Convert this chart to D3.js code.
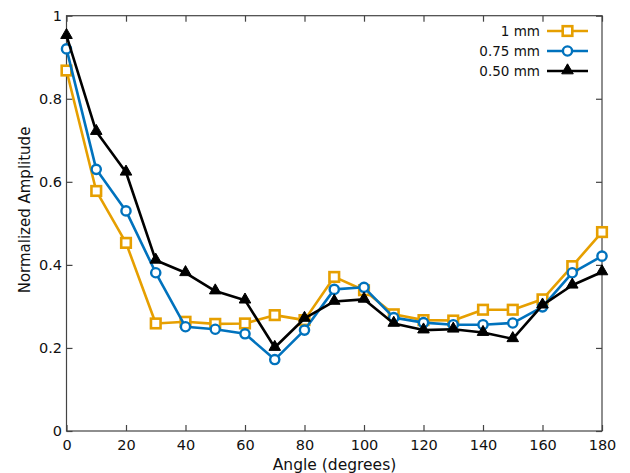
<!DOCTYPE html>
<html>
<head>
<meta charset="utf-8">
<script src="https://cdn.jsdelivr.net/npm/d3@7"></script>
<style>
  html, body { margin: 0; padding: 0; background: #fff; }
  svg text { font-family: "DejaVu Sans", Verdana, sans-serif; fill: #111; }
</style>
</head>
<body>
<svg id="chart" width="630" height="473"></svg>
<script>
// Measurement angles (degrees)
const angles = [0, 10, 20, 30, 40, 50, 60, 70, 80, 90, 100, 110, 120, 130, 140, 150, 160, 170, 180];

// Normalized amplitude per probe size
const amp1mm = [0.868, 0.578, 0.453, 0.259, 0.263, 0.258, 0.259, 0.279, 0.267, 0.371, 0.339, 0.281, 0.267, 0.266, 0.292, 0.292, 0.317, 0.397, 0.479];
const amp075mm = [0.920, 0.630, 0.530, 0.381, 0.251, 0.245, 0.234, 0.172, 0.243, 0.341, 0.346, 0.273, 0.261, 0.256, 0.256, 0.260, 0.299, 0.381, 0.421];
const amp050mm = [0.952, 0.721, 0.623, 0.411, 0.381, 0.337, 0.315, 0.201, 0.271, 0.312, 0.317, 0.259, 0.243, 0.245, 0.237, 0.222, 0.303, 0.351, 0.383];

const seriesNames = ["1 mm", "0.75 mm", "0.50 mm"];
const xTicks = [0, 20, 40, 60, 80, 100, 120, 140, 160, 180];
const yTicks = [0, 0.2, 0.4, 0.6, 0.8, 1];

const series = [
  { name: seriesNames[0], values: amp1mm, color: "#E69F00", marker: "square" },
  { name: seriesNames[1], values: amp075mm, color: "#0072BD", marker: "circle" },
  { name: seriesNames[2], values: amp050mm, color: "#000000", marker: "triangle" }
];

const svg = d3.select("#chart");
const plotLeft = 66.5, plotRight = 602, plotTop = 15.7, plotBottom = 431;

const x = d3.scaleLinear().domain([0, 180]).range([plotLeft, plotRight]);
const y = d3.scaleLinear().domain([0, 1]).range([plotBottom, plotTop]);

const axisColor = "#444";
const tickLen = 6;
const tickFont = 14.5;

// Frame
svg.append("rect")
  .attr("x", plotLeft).attr("y", plotTop)
  .attr("width", plotRight - plotLeft).attr("height", plotBottom - plotTop)
  .attr("fill", "none").attr("stroke", axisColor).attr("stroke-width", 1.2);

// Bottom axis (inward ticks) and mirrored top ticks
const xAxis = svg.append("g").attr("transform", `translate(0,${plotBottom})`)
  .call(d3.axisBottom(x).tickValues(xTicks).tickSizeInner(-tickLen).tickSizeOuter(0).tickPadding(9)
    .tickFormat(d3.format("d")));
const xAxisTop = svg.append("g").attr("transform", `translate(0,${plotTop})`)
  .call(d3.axisTop(x).tickValues(xTicks).tickSizeInner(-tickLen).tickSizeOuter(0).tickFormat(""));

// Left axis (inward ticks) and mirrored right ticks
const yAxis = svg.append("g").attr("transform", `translate(${plotLeft},0)`)
  .call(d3.axisLeft(y).tickValues(yTicks).tickSizeInner(-tickLen).tickSizeOuter(0).tickPadding(4.5)
    .tickFormat(d => d === 0 ? "0" : d === 1 ? "1" : d3.format(".1f")(d)));
const yAxisRight = svg.append("g").attr("transform", `translate(${plotRight},0)`)
  .call(d3.axisRight(y).tickValues(yTicks).tickSizeInner(-tickLen).tickSizeOuter(0).tickFormat(""));

[xAxis, xAxisTop, yAxis, yAxisRight].forEach(g => {
  g.select(".domain").remove();
  g.selectAll(".tick line").attr("stroke", axisColor).attr("stroke-width", 1.2);
  g.selectAll(".tick text").attr("font-size", tickFont).attr("fill", "#111")
    .attr("font-family", "DejaVu Sans, Verdana, sans-serif");
});

// Axis titles
svg.append("text")
  .attr("x", 334.5).attr("y", 470)
  .attr("text-anchor", "middle").attr("font-size", 15.5)
  .text("Angle (degrees)");
svg.append("text")
  .attr("transform", "translate(29.5,210) rotate(-90)")
  .attr("text-anchor", "middle").attr("font-size", 15)
  .text("Normalized Amplitude");

// Marker drawing helper
function drawMarker(g, kind, cx, cy, color) {
  if (kind === "square") {
    g.append("rect").attr("x", cx - 4.8).attr("y", cy - 4.8).attr("width", 9.6).attr("height", 9.6)
      .attr("fill", "#fff").attr("stroke", color).attr("stroke-width", 2.6);
  } else if (kind === "circle") {
    g.append("circle").attr("cx", cx).attr("cy", cy).attr("r", 4.6)
      .attr("fill", "#fff").attr("stroke", color).attr("stroke-width", 2.4);
  } else {
    g.append("path")
      .attr("d", d3.symbol().type(d3.symbolTriangle).size(58)())
      .attr("transform", `translate(${cx},${cy - 0.5})`)
      .attr("fill", color).attr("stroke", color).attr("stroke-width", 1);
  }
}

const line = d3.line().x(d => x(d[0])).y(d => y(d[1]));

series.forEach(s => {
  const pts = angles.map((a, i) => [a, s.values[i]]);
  const g = svg.append("g");
  g.append("path").datum(pts)
    .attr("d", line).attr("fill", "none")
    .attr("stroke", s.color).attr("stroke-width", 2.6).attr("stroke-linejoin", "round");
  pts.forEach(p => drawMarker(g, s.marker, x(p[0]), y(p[1]), s.color));
});

// Legend
const legend = svg.append("g");
series.forEach((s, i) => {
  const ly = 31 + i * 20;
  legend.append("text")
    .attr("x", 540).attr("y", ly + 5)
    .attr("text-anchor", "end").attr("font-size", 13.5)
    .text(s.name);
  legend.append("line")
    .attr("x1", 547).attr("x2", 588).attr("y1", ly).attr("y2", ly)
    .attr("stroke", s.color).attr("stroke-width", 2.6);
  drawMarker(legend, s.marker, 567.5, ly, s.color);
});
</script>
</body>
</html>
